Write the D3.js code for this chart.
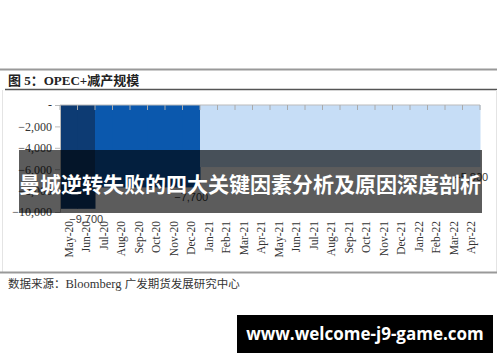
<!DOCTYPE html>
<html>
<head>
<meta charset="utf-8">
<script src="https://cdn.jsdelivr.net/npm/d3@7"></script>
<style>
  body { margin: 0; background: #fff; }
  svg { display: block; }
</style>
</head>
<body>
<svg width="500" height="362"></svg>
<script>
var months = ["May-20","Jun-20","Jul-20","Aug-20","Sep-20","Oct-20","Nov-20","Dec-20",
              "Jan-21","Feb-21","Mar-21","Apr-21","May-21","Jun-21","Jul-21","Aug-21",
              "Sep-21","Oct-21","Nov-21","Dec-21","Jan-22","Feb-22","Mar-22","Apr-22"];
var cuts = [-9700,-9700,-7700,-7700,-7700,-7700,-7700,-7700,
            -5800,-5800,-5800,-5800,-5800,-5800,-5800,-5800,
            -5800,-5800,-5800,-5800,-5800,-5800,-5800,-5800];
var yTicks = [0,-2000,-4000,-6000,-8000,-10000];
var labelMonths = ["Jun-20","Dec-20","Apr-22"];
var labelValues = [-9700,-7700,-5800];

var svg = d3.select("svg");
var serif = "'Liberation Serif','Times New Roman',serif";
var cjk = "'Noto Sans CJK SC','Noto Sans',sans-serif";

// frame
svg.append("line").attr("x1",0).attr("x2",497).attr("y1",69.5).attr("y2",69.5)
    .attr("stroke","#999").attr("stroke-width",2);
svg.append("text").attr("x",8).attr("y",85)
    .attr("font-family",serif + ",'Noto Sans CJK SC'").attr("font-weight","bold")
    .attr("font-size",13).attr("fill","#222")
    .text("图 5：OPEC+减产规模");
svg.append("line").attr("x1",5).attr("x2",497).attr("y1",89.5).attr("y2",89.5)
    .attr("stroke","#555").attr("stroke-width",1.5);
svg.append("line").attr("x1",2.5).attr("x2",2.5).attr("y1",90).attr("y2",272)
    .attr("stroke","#e4e4e4");
svg.append("line").attr("x1",496.5).attr("x2",496.5).attr("y1",90).attr("y2",272)
    .attr("stroke","#e4e4e4");
svg.append("line").attr("x1",0).attr("x2",497).attr("y1",272.5).attr("y2",272.5)
    .attr("stroke","#999").attr("stroke-width",2);
svg.append("text").attr("x",8).attr("y",288)
    .attr("font-family",cjk + ",serif").attr("font-size",11.5).attr("fill","#333")
    .text("数据来源：")
  .append("tspan").attr("font-family",serif).attr("font-size",12.5).text("Bloomberg ")
  .append("tspan").attr("font-family",cjk).attr("font-size",11.5).text(" 广发期货发展研究中心");

var x = d3.scaleBand().domain(months).range([60, 480]).padding(0);
var y = d3.scaleLinear().domain([-10000, 0]).range([212, 105]);
var color = d3.scaleOrdinal().domain([-9700,-7700,-5800])
    .range(["#0d3b73","#0b58ad","#c6ddf6"]);

svg.append("g").selectAll("rect")
    .data(months)
  .enter().append("rect")
    .attr("x", function(d) { return x(d); })
    .attr("y", y(0))
    .attr("width", x.bandwidth() + 0.5)
    .attr("height", function(d, i) { return y(cuts[i]) - y(0); })
    .attr("fill", function(d, i) { return color(cuts[i]); });

// y axis
var yAxis = svg.append("g").attr("transform","translate(60,0)")
    .call(d3.axisLeft(y).tickValues(yTicks).tickSize(5).tickPadding(3)
      .tickFormat(function(d) { return d === 0 ? "-" : d3.format(",")(d); }));
yAxis.select(".domain").attr("stroke","#bbb");
yAxis.selectAll(".tick line").attr("stroke","#bbb");
yAxis.selectAll("text").attr("font-family",serif).attr("font-size",12).attr("fill","#333");

// zero line with ticks at band edges
var topAxis = svg.append("g").attr("transform","translate(0," + y(0) + ")");
topAxis.append("line").attr("x1",60).attr("x2",480).attr("stroke","#bbb");
topAxis.selectAll("line.t").data(months.concat(["end"]))
  .enter().append("line").attr("class","t")
    .attr("x1", function(d, i) { return 60 + i * x.bandwidth(); })
    .attr("x2", function(d, i) { return 60 + i * x.bandwidth(); })
    .attr("y1",0).attr("y2",5).attr("stroke","#aaa");

// month labels
svg.append("g").selectAll("text")
    .data(months)
  .enter().append("text")
    .attr("transform", function(d) {
      return "translate(" + (x(d) + x.bandwidth() / 2 + 4) + ",221) rotate(-90)";
    })
    .attr("text-anchor","end")
    .attr("font-family",serif).attr("font-size",11.5).attr("fill","#333")
    .text(function(d) { return d; });

// data labels
svg.append("g").selectAll("text")
    .data(labelMonths)
  .enter().append("text")
    .attr("x", function(d) { return x(d) + x.bandwidth() / 2; })
    .attr("y", function(d, i) { return y(labelValues[i]) + 14; })
    .attr("text-anchor","middle")
    .attr("font-family","'Liberation Sans',Arial,sans-serif").attr("font-size",11)
    .attr("fill","#404040")
    .text(function(d, i) { return d3.format(",")(labelValues[i]); });

// overlay banner
svg.append("rect").attr("x",19).attr("y",150).attr("width",463).attr("height",63)
    .attr("fill","#000").attr("fill-opacity",0.64);
svg.append("text").attr("x",19).attr("y",192)
    .attr("font-family",cjk).attr("font-weight","bold").attr("font-size",21)
    .attr("fill","#fff")
    .text("曼城逆转失败的四大关键因素分析及原因深度剖析");

// watermark
svg.append("rect").attr("x",237).attr("y",315).attr("width",256).attr("height",38)
    .attr("fill","#000");
svg.append("text").attr("x",365).attr("y",340).attr("text-anchor","middle")
    .attr("font-family","'Open Sans',sans-serif").attr("font-weight","bold")
    .attr("font-size",17).attr("fill","#fff")
    .text("www.welcome-j9-game.com");
</script>
</body>
</html>
